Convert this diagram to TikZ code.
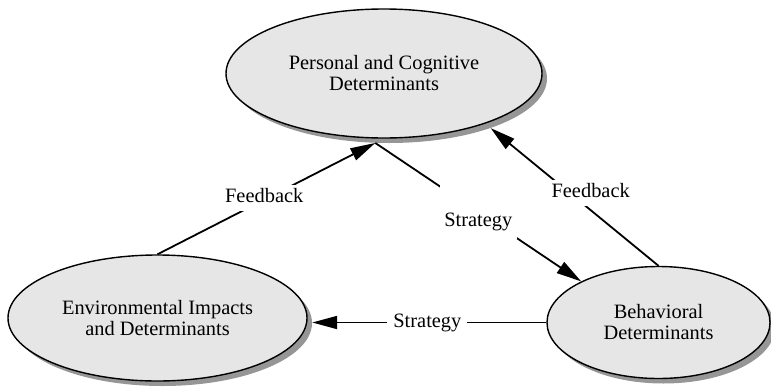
\documentclass[tikz,border=0pt]{standalone}
\usepackage{fontspec}
\setmainfont{Liberation Serif}
\usetikzlibrary{shapes.geometric,arrows.meta,calc}
\definecolor{blobfill}{RGB}{230,230,230}
\definecolor{shadowgray}{RGB}{150,150,150}
\begin{document}
\begin{tikzpicture}[x=1pt,y=-1pt,
  blob/.style={ellipse, draw=black, line width=1.4pt, fill=blobfill, inner sep=0pt,
    align=center, font=\fontsize{20.4}{21}\selectfont},
  blobshadow/.style={ellipse, fill=shadowgray, draw=none, inner sep=0pt},
  conn/.style={line width=1.8pt, -{Triangle[length=25pt,width=13pt]}},
  lbl/.style={fill=white, inner sep=0pt, font=\fontsize{20.4}{21}\selectfont},
]
\useasboundingbox (0,0) rectangle (771,391);

% drop shadows
\node[blobshadow, minimum width=316pt, minimum height=129pt] (Ps) at (389,78.5) {};
\node[blobshadow, minimum width=299pt, minimum height=126pt] (Es) at (162.5,323) {};
\node[blobshadow, minimum width=223pt, minimum height=112pt] (Bs) at (663.5,327.5) {};

% determinants
\node[blob, minimum width=316pt, minimum height=129pt] (P) at (384,73.5)
  {Personal and Cognitive\\Determinants};
\node[blob, minimum width=299pt, minimum height=126pt] (E) at (157.5,318)
  {Environmental Impacts\\and Determinants};
\node[blob, minimum width=223pt, minimum height=112pt] (B) at (658.5,322.5)
  {Behavioral\\Determinants};

% relations
\draw[conn] (E.north) -- (Ps.258.6)
  node[lbl, pos=.49, yshift=1.8pt, text height=17.5pt, text depth=8.5pt] {Feedback};
\draw[conn] (Ps.258.6) -- (B.152.7)
  node[lbl, pos=.5, minimum width=77pt, text height=41pt, text depth=13pt] {Strategy};
\draw[conn] (B.north) -- (Ps.334.8)
  node[lbl, pos=.528, xshift=20.8pt, text height=17.3pt, text depth=8.7pt] {Feedback};
\draw[conn] (B.west) -- (B.west -| Es.east)
  node[lbl, pos=.508, inner xsep=6pt, text height=14pt, text depth=5pt] {Strategy};
\end{tikzpicture}
\end{document}
